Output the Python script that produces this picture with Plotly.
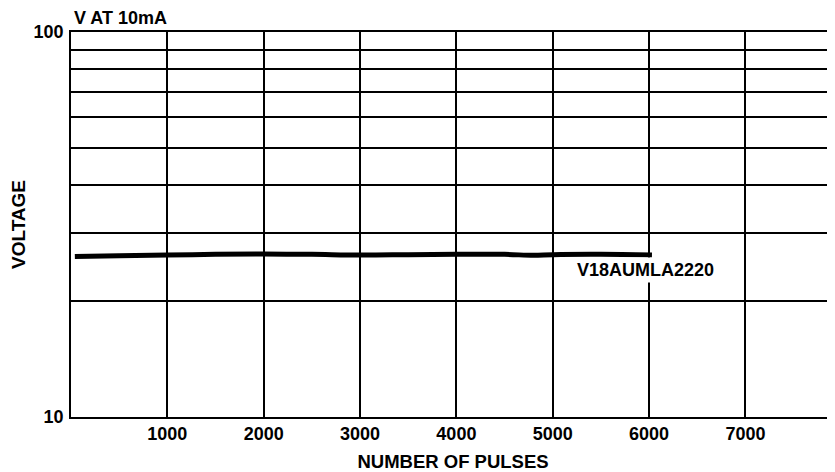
import plotly.graph_objects as go

pulses = [40, 500, 1000, 1500, 2000, 2500, 3000, 3500, 4000, 4500, 4800, 5000, 5500, 6030]
voltage = [26.1, 26.25, 26.35, 26.45, 26.5, 26.45, 26.35, 26.4, 26.45, 26.45, 26.3, 26.4, 26.45, 26.35]
series_name = "V18AUMLA2220"
x_ticks = [1000, 2000, 3000, 4000, 5000, 6000, 7000]
y_grid = [10, 20, 30, 40, 50, 60, 70, 80, 90, 100]
y_labels = ["10", "", "", "", "", "", "", "", "", "100"]

FONT = "Liberation Sans, Arial, sans-serif"
FS = 18

fig = go.Figure()
fig.add_trace(go.Scatter(x=pulses, y=voltage, mode="lines", name=series_name,
                         line=dict(color="black", width=5, shape="spline"),
                         showlegend=False, hoverinfo="skip"))

fig.add_annotation(x=5960, y=1.3823, xref="x", yref="y", text="<b>" + series_name + "</b>",
                   showarrow=False, bgcolor="white", borderpad=2,
                   font=dict(family=FONT, size=FS, color="black"))
fig.add_annotation(x=0, y=1, xref="paper", yref="paper", text="<b>V AT 10mA</b>",
                   showarrow=False, xanchor="left", yanchor="bottom", xshift=1, yshift=2,
                   font=dict(family=FONT, size=FS, color="black"))

# the page body adds an 8px offset on the left and top
fig.update_layout(
    width=835, height=472,
    margin=dict(l=63, r=8, t=24, b=63),
    paper_bgcolor="white", plot_bgcolor="white",
    font=dict(family=FONT, size=FS, color="black"),
    xaxis=dict(range=[0, 7930], tickvals=x_ticks, ticktext=["<b>%d</b>" % v for v in x_ticks],
               showgrid=True, gridcolor="black", gridwidth=1.5, automargin=False,
               showline=True, linecolor="black", linewidth=1.5, mirror=True,
               zeroline=False, ticks="", ticklabelstandoff=0,
               title=dict(text="<b>NUMBER OF PULSES</b>", font=dict(size=18.5), standoff=12)),
    yaxis=dict(type="log", range=[1, 2], tickvals=y_grid,
               ticktext=["<b>%s</b>" % t if t else "" for t in y_labels],
               showgrid=True, gridcolor="black", gridwidth=1.5, automargin=False,
               showline=True, linecolor="black", linewidth=1.5,
               zeroline=False, ticks="", ticklabelstandoff=2,
               title=dict(text="<b>VOLTAGE</b>", font=dict(size=19), standoff=11)),
)

fig.write_html("out.html")
